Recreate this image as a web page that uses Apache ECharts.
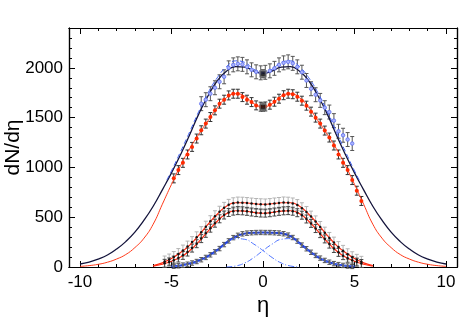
<!DOCTYPE html>
<html>
<head>
<meta charset="utf-8">
<script src="https://cdn.jsdelivr.net/npm/echarts@6/dist/echarts.min.js"></script>
<style>
html, body { margin: 0; padding: 0; background: #fff; }
#main { width: 469px; height: 322px; }
</style>
</head>
<body>
<div id="main"></div>
<script>
// fitted curves
var etaWide = [-10,-9.5,-9,-8.5,-8,-7.5,-7,-6.5,-6,-5.5,-5,-4.5,-4,-3.5,-3,-2.5,-2,-1.5,-1,-0.5,0,0.5,1,1.5,2,2.5,3,3.5,4,4.5,5,5.5,6,6.5,7,7.5,8,8.5,9,9.5,10];
var blackFit = [30,50,80,120,180,255,350,470,610,775,945,1130,1330,1540,1720,1870,1965,2012,2008,1968,1945,1968,2008,2012,1965,1870,1720,1540,1330,1130,945,775,610,470,350,255,180,120,80,50,30];
var redFit = [6,14,27,48,80,125,195,290,430,630,830,1020,1190,1335,1470,1600,1700,1740,1715,1640,1610,1640,1715,1740,1700,1600,1470,1335,1190,1020,830,630,430,290,195,125,80,48,27,14,6];

var etaDash = [-5.25,-5,-4.5,-4,-3.5,-3,-2.5,-2,-1.5,-1,-0.5,0,0.5,1,1.5,2,2.5,3,3.5,4,4.5,5,5.25];
var blueDash = [875,965,1160,1360,1565,1750,1900,2010,2070,2055,1985,1955,1985,2055,2070,2010,1900,1750,1565,1360,1160,965,875];

var etaSix = [-6,-5.5,-5,-4.5,-4,-3.5,-3,-2.5,-2,-1.5,-1,-0.5,0,0.5,1,1.5,2,2.5,3,3.5,4,4.5,5,5.5,6];
var upperFit = [15,42,85,145,220,320,430,530,610,645,645,635,630,635,645,645,610,530,430,320,220,145,85,42,15];
var lowerFit = [8,28,58,100,165,255,360,460,535,565,562,548,540,548,562,565,535,460,360,255,165,100,58,28,8];

var etaFive = [-5,-4.5,-4,-3.5,-3,-2.5,-2,-1.5,-1,-0.5,0,0.5,1,1.5,2,2.5,3,3.5,4,4.5,5];
var blueFit = [5,15,35,65,110,170,245,305,335,344,346,345,340,310,240,165,100,55,28,12,4];

var etaGaussR = [-2,-1.5,-1,-0.5,0,0.5,1,1.5,2,2.5,3,3.5,4,4.5,5];
var gaussR = [0,10,40,95,165,230,278,285,235,165,100,55,28,12,4];
var etaGaussL = [-5,-4.5,-4,-3.5,-3,-2.5,-2,-1.5,-1,-0.5,0,0.5,1,1.5,2];
var gaussL = [4,12,28,55,100,165,235,285,278,230,165,95,40,10,0];

// measured points
var etaPts = [-5.375,-5.125,-4.875,-4.625,-4.375,-4.125,-3.875,-3.625,-3.375,-3.125,-2.875,-2.625,-2.375,-2.125,-1.875,-1.625,-1.375,-1.125,-0.875,-0.625,-0.375,-0.125,0.125,0.375,0.625,0.875,1.125,1.375,1.625,1.875,2.125,2.375,2.625,2.875,3.125,3.375,3.625,3.875,4.125,4.375,4.625,4.875,5.125,5.375];
var redPts = [890,973,1046,1130,1206,1290,1373,1440,1506,1573,1640,1680,1723,1740,1740,1706,1680,1656,1623,1610,1612,1630,1660,1690,1725,1740,1735,1710,1670,1620,1560,1500,1440,1370,1300,1220,1130,1046,973,873,766,663];
var bluePts = [1640,1680,1740,1800,1860,1910,2000,2030,2040,2035,2010,1980,1960,1950,1955,1970,1995,2030,2050,2060,2045,2010,1956,1873,1790,1730,1673,1600,1556,1470,1363,1323,1280,1240];
var upperPts = [55,75,100,130,165,205,250,298,350,405,460,510,555,594,624,640,647,646,642,637,633,630,628,632,638,643,648,646,638,622,590,552,506,458,402,345,292,245,200,162,128,98,72,52];
var lowerPts = [37,51,69,90,117,150,190,234,285,338,390,440,484,522,547,561,566,564,559,552,546,542,541,545,552,559,564,566,560,545,520,482,438,386,335,282,230,186,147,114,88,67,49,35];
var blueLowPts = [8,12,19,28,40,55,73,96,122,152,185,225,262,295,318,333,340,344,346,347,346,346,344,341,334,320,296,260,220,183,148,116,89,66,48,34,24,16,10,6];
var etaCenter = [0, 0];
var centerPts = [1940, 1606];

var xMajor = [-10, -5, 0, 5, 10];
var xMinor = [-9,-8,-7,-6,-4,-3,-2,-1,1,2,3,4,6,7,8,9];
var yMajor = [0, 500, 1000, 1500, 2000];
var yMinor = [100,200,300,400,600,700,800,900,1100,1200,1300,1400,1600,1700,1800,1900,2100,2200,2300];

var etaRedPts = etaPts.slice(2);        // -4.875 .. 5.375
var etaBluePts = etaPts.slice(8, 42);   // -3.375 .. 4.875
var etaBlueLow = etaPts.slice(2, 42);   // -4.875 .. 4.875

function pairs(xs, ys) {
    return xs.map(function (x, i) { return [x, ys[i]]; });
}

function curve(xs, ys, color, width, dash, z) {
    return {
        type: 'line',
        data: pairs(xs, ys),
        showSymbol: false,
        smooth: 0.5,
        silent: true,
        z: z || 3,
        lineStyle: { color: color, width: width, type: dash || 'solid' }
    };
}

function errorBars(xs, ys, err, color, z) {
    return {
        type: 'custom',
        silent: true,
        z: z,
        data: xs.map(function (x, i) { return [x, ys[i] - err, ys[i] + err]; }),
        renderItem: function (params, api) {
            var lo = api.coord([api.value(0), api.value(1)]);
            var hi = api.coord([api.value(0), api.value(2)]);
            var st = { stroke: color, lineWidth: 1 };
            return {
                type: 'group',
                children: [
                    { type: 'line', shape: { x1: lo[0], y1: lo[1], x2: hi[0], y2: hi[1] }, style: st },
                    { type: 'line', shape: { x1: lo[0] - 2, y1: lo[1], x2: lo[0] + 2, y2: lo[1] }, style: st },
                    { type: 'line', shape: { x1: hi[0] - 2, y1: hi[1], x2: hi[0] + 2, y2: hi[1] }, style: st }
                ]
            };
        }
    };
}

function dots(xs, ys, color, size, border, z) {
    return {
        type: 'scatter',
        data: pairs(xs, ys),
        symbol: 'circle',
        symbolSize: size,
        silent: true,
        z: z || 5,
        itemStyle: { color: color, borderColor: border || color, borderWidth: border ? 0.8 : 0, opacity: 1 }
    };
}

function xAx(pos, ticks, len, labels) {
    return {
        type: 'value', min: -10.6, max: 10.6, position: pos,
        axisLine: { show: true, onZero: false, lineStyle: { color: '#000', width: 1.2 } },
        axisTick: { show: true, inside: true, length: len, customValues: ticks, lineStyle: { color: '#000' } },
        axisLabel: labels ? { show: true, customValues: ticks, color: '#000', fontSize: 17, fontFamily: 'Liberation Sans', margin: 7 } : { show: false },
        splitLine: { show: false },
        name: labels ? 'η' : '',
        nameLocation: 'middle',
        nameGap: 28,
        nameMoveOverlap: false,
        nameTextStyle: { color: '#000', fontSize: 22, fontFamily: 'Liberation Sans' }
    };
}

function yAx(pos, ticks, len, labels) {
    return {
        type: 'value', min: 0, max: 2400, position: pos,
        axisLine: { show: true, onZero: false, lineStyle: { color: '#000', width: 1.2 } },
        axisTick: { show: true, inside: true, length: len, customValues: ticks, lineStyle: { color: '#000' } },
        axisLabel: labels ? {
            show: true, customValues: ticks, color: '#000', fontSize: 17, fontFamily: 'Liberation Sans', margin: 6,
            formatter: function (v) { return String(v); }
        } : { show: false },
        splitLine: { show: false },
        name: labels ? 'dN/dη' : '',
        nameLocation: 'middle',
        nameGap: 45,
        nameMoveOverlap: false,
        nameTextStyle: { color: '#000', fontSize: 21, fontFamily: 'Liberation Sans' }
    };
}

var myChart = echarts.init(document.getElementById('main'));
var option = {
    animation: false,
    backgroundColor: '#fff',
    grid: { left: 69, right: 12, top: 28, bottom: 55, containLabel: false, outerBoundsMode: 'none' },
    xAxis: [
        xAx('bottom', xMajor, 6, true),
        xAx('bottom', xMinor, 3, false),
        xAx('top', xMajor, 6, false),
        xAx('top', xMinor, 3, false)
    ],
    yAxis: [
        yAx('left', yMajor, 6, true),
        yAx('left', yMinor, 3, false),
        yAx('right', yMajor, 6, false),
        yAx('right', yMinor, 3, false)
    ],
    series: [
        // error bars
        errorBars(etaPts, upperPts, 55, '#b4b4b4', 1),
        errorBars(etaPts, lowerPts, 40, '#444', 1),
        errorBars(etaBlueLow, blueLowPts, 22, '#555', 1),
        errorBars(etaBluePts, bluePts, 70, '#555', 1),
        errorBars(etaRedPts, redPts, 45, '#333', 1),
        errorBars(etaCenter, centerPts, 40, '#333', 1),
        // fits
        curve(etaWide, blackFit, '#14143c', 1.3),
        curve(etaWide, redFit, '#ff3a1a', 1),
        curve(etaDash, blueDash, '#4060f0', 1, [5, 3]),
        curve(etaSix, upperFit, '#ff2a10', 1.2),
        curve(etaSix, lowerFit, '#ff2a10', 1.2),
        curve(etaFive, blueFit, '#1f3fdc', 2),
        curve(etaGaussR, gaussR, '#4f74ff', 1, [6, 2, 1, 2]),
        curve(etaGaussL, gaussL, '#4f74ff', 1, [6, 2, 1, 2]),
        // points
        dots(etaRedPts, redPts, '#ff2a00', 4),
        dots(etaBluePts, bluePts, '#aab4ff', 3.5, '#5a6cf0'),
        dots(etaPts, upperPts, '#111', 2.5),
        dots(etaPts, lowerPts, '#111', 2.5),
        dots(etaBlueLow, blueLowPts, '#666', 2.5),
        {
            type: 'scatter',
            data: pairs(etaCenter, centerPts),
            symbol: 'rect',
            symbolSize: 6,
            silent: true,
            z: 6,
            itemStyle: { color: '#111', borderColor: '#777', borderWidth: 1.5 }
        }
    ]
};
myChart.setOption(option);
</script>
</body>
</html>
